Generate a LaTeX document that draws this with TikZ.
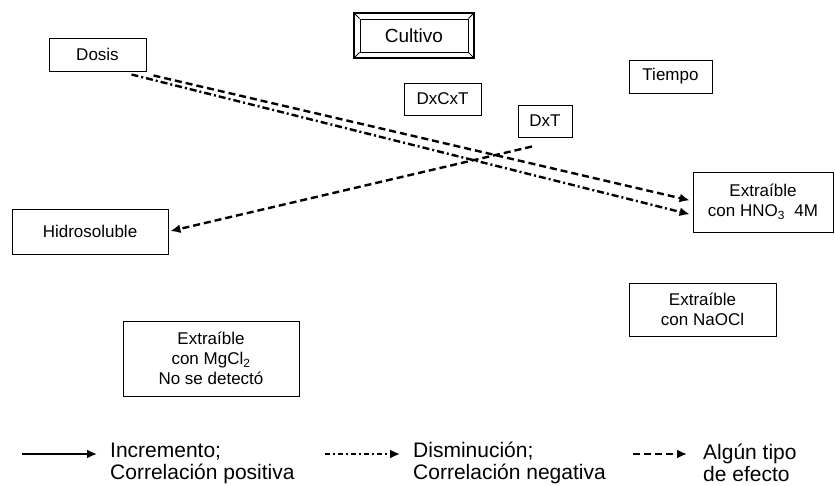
\documentclass[tikz,border=0pt]{standalone}
\usepackage{fontspec}
\setmainfont{Liberation Sans}
\usepackage{tikz}
\usetikzlibrary{arrows.meta}
\tikzstyle{box} = [draw,line width=1pt,align=center,inner sep=0pt,font=\fontsize{17}{20}\selectfont]
\tikzstyle{arrow} = [line width=2.4pt,-{Latex[length=10pt,width=9pt]}]
\tikzstyle{effect} = [arrow,dash pattern=on 7pt off 4pt]
\tikzstyle{negative} = [arrow,dash pattern=on 7pt off 3pt on 2pt off 3pt]
\tikzstyle{legend} = [anchor=west,align=left,inner sep=0pt,font=\fontsize{21}{22}\selectfont]

\begin{document}
\begin{tikzpicture}[x=1pt,y=-1pt]
	\useasboundingbox (0,0) rectangle (835,485);
	\node[box,minimum width=97pt,minimum height=33pt] (dosis) at (97.5,54.5) {Dosis};
	\node[box,minimum width=108pt,minimum height=33pt,font=\fontsize{19}{22}\selectfont] (cultivo) at (414,35.5) {Cultivo};
	\node[box,line width=1.4pt,minimum width=120pt,minimum height=45pt] (frame) at (414,35.5) {};
	\foreach \c in {north west,north east,south west,south east}
		\draw[line width=1pt] (cultivo.\c) -- (frame.\c);
	\node[box,minimum width=77pt,minimum height=32pt] (dxcxt) at (442.5,99) {DxCxT};
	\node[box,minimum width=54pt,minimum height=32pt] (dxt) at (545,121) {DxT};
	\node[box,minimum width=83pt,minimum height=33pt] (tiempo) at (670.5,76.5) {Tiempo};
	\node[box,minimum width=140pt,minimum height=60pt] (hno) at (763,202) {Extraíble\\con HNO\textsubscript{3}\ \ 4M};
	\node[box,minimum width=156pt,minimum height=45pt] (hidro) at (90,231.5) {Hidrosoluble};
	\node[box,minimum width=147pt,minimum height=53pt] (naocl) at (702.5,309.5) {Extraíble\\con NaOCl};
	\node[box,minimum width=176pt,minimum height=75pt] (mgcl) at (211,358.5) {Extraíble\\con MgCl\textsubscript{2}\\No se detectó};

	\draw[effect,shorten >=3pt] ([xshift=7pt,yshift=-4pt]dosis.south east) -- ([yshift=1pt]hno.west);
	\draw[negative,shorten >=3pt] ([xshift=34pt,yshift=-3pt]dosis.south) -- ([yshift=-13pt]hno.west);
	\draw[effect,shorten >=2pt] ([xshift=-13pt,yshift=-9pt]dxt.south) -- (hidro.east);

	\coordinate (inc) at (22,454);
	\coordinate (dis) at (325,454);
	\coordinate (alg) at (633,454);
	\node[legend] (incT) at (110,463) {Incremento;\\Correlación positiva};
	\node[legend] (disT) at (413,463) {Disminución;\\Correlación negativa};
	\node[legend] (algT) at (703,463) {Algún tipo\\de efecto};
	\draw[arrow,shorten >=13pt] (inc) -- (inc -| incT.west);
	\draw[negative,line width=1.8pt,dash pattern=on 5pt off 3pt on 2pt off 3pt,shorten >=13pt] (dis) -- (dis -| disT.west);
	\draw[effect,line width=2pt,shorten >=16pt] (alg) -- (alg -| algT.west);
\end{tikzpicture}
\end{document}
